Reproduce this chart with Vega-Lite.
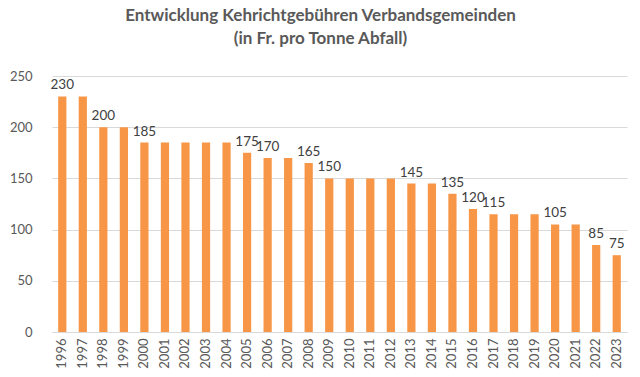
{
  "$schema": "https://vega.github.io/schema/vega-lite/v6.json",
  "autosize": {"type": "none"},
  "width": 575,
  "height": 256,
  "padding": {"left": 52, "top": 76, "right": 13, "bottom": 45},
  "background": "white",
  "title": {
    "text": ["Entwicklung Kehrichtgebühren Verbandsgemeinden", "(in Fr. pro Tonne Abfall)"],
    "font": "Lato",
    "fontSize": 17,
    "fontWeight": "bold",
    "color": "#595959",
    "anchor": "middle",
    "dx": -19,
    "offset": 22,
    "lineHeight": 23
  },
  "data": {
    "values": [
      {"year": "1996", "fee": 230, "label": "230"},
      {"year": "1997", "fee": 230, "label": ""},
      {"year": "1998", "fee": 200, "label": "200"},
      {"year": "1999", "fee": 200, "label": ""},
      {"year": "2000", "fee": 185, "label": "185"},
      {"year": "2001", "fee": 185, "label": ""},
      {"year": "2002", "fee": 185, "label": ""},
      {"year": "2003", "fee": 185, "label": ""},
      {"year": "2004", "fee": 185, "label": ""},
      {"year": "2005", "fee": 175, "label": "175"},
      {"year": "2006", "fee": 170, "label": "170"},
      {"year": "2007", "fee": 170, "label": ""},
      {"year": "2008", "fee": 165, "label": "165"},
      {"year": "2009", "fee": 150, "label": "150"},
      {"year": "2010", "fee": 150, "label": ""},
      {"year": "2011", "fee": 150, "label": ""},
      {"year": "2012", "fee": 150, "label": ""},
      {"year": "2013", "fee": 145, "label": "145"},
      {"year": "2014", "fee": 145, "label": ""},
      {"year": "2015", "fee": 135, "label": "135"},
      {"year": "2016", "fee": 120, "label": "120"},
      {"year": "2017", "fee": 115, "label": "115"},
      {"year": "2018", "fee": 115, "label": ""},
      {"year": "2019", "fee": 115, "label": ""},
      {"year": "2020", "fee": 105, "label": "105"},
      {"year": "2021", "fee": 105, "label": ""},
      {"year": "2022", "fee": 85, "label": "85"},
      {"year": "2023", "fee": 75, "label": "75"}
    ]
  },
  "encoding": {
    "x": {
      "field": "year",
      "type": "ordinal",
      "scale": {"paddingInner": 0.6, "paddingOuter": 0.3},
      "axis": {
        "title": null,
        "labelAngle": -90,
        "labelFont": "Lato",
        "labelFontSize": 13,
        "labelColor": "#595959",
        "labelPadding": 6,
        "ticks": false,
        "domainColor": "#d9d9d9",
        "domainWidth": 1
      }
    },
    "y": {
      "field": "fee",
      "type": "quantitative",
      "scale": {"domain": [0, 250]},
      "axis": {
        "title": null,
        "values": [0, 50, 100, 150, 200, 250],
        "domain": false,
        "ticks": false,
        "labelFont": "Lato",
        "labelFontSize": 13,
        "labelColor": "#595959",
        "labelPadding": 20,
        "gridColor": "#d9d9d9",
        "gridWidth": 1
      }
    }
  },
  "layer": [
    {"mark": {"type": "bar", "color": "#F79646"}},
    {
      "mark": {"type": "text", "dy": -11, "font": "Lato", "fontSize": 13.5, "color": "#404040"},
      "encoding": {"text": {"field": "label"}}
    }
  ],
  "config": {"view": {"stroke": null}}
}
